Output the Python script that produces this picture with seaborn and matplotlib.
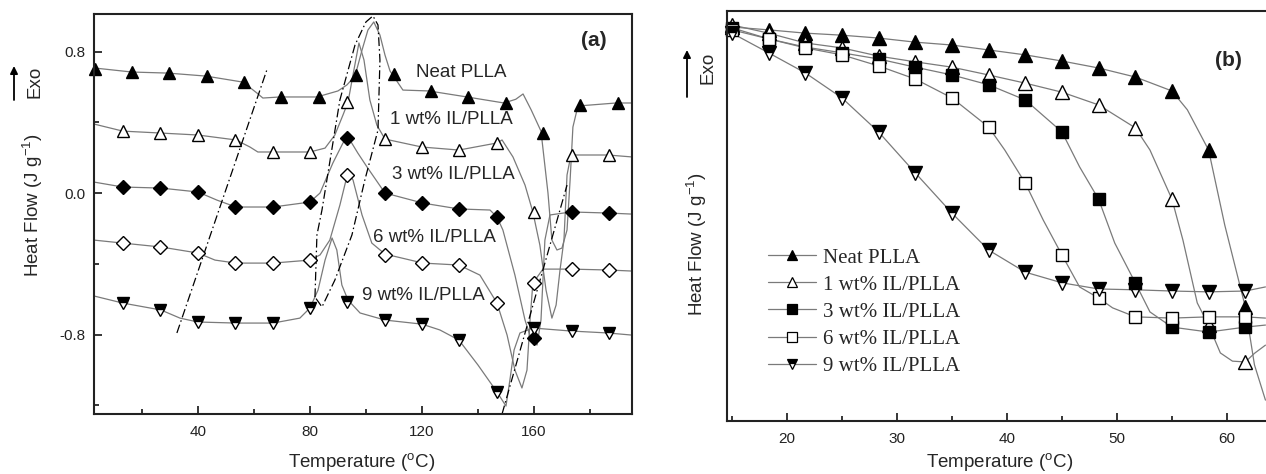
import seaborn as sns
import matplotlib.pyplot as plt
from matplotlib.lines import Line2D
from matplotlib.ticker import MultipleLocator, FormatStrFormatter

'''DSC heating scans (a) and cooling scans (b) of PLLA / IL blends'''

labels = ['Neat PLLA', '1 wt% IL/PLLA', '3 wt% IL/PLLA', '6 wt% IL/PLLA', '9 wt% IL/PLLA']

# ---------- panel (a): heating curves ----------
neat_t = [2.9, 16.4, 29.3, 42.9, 56.1, 61.1, 63.2, 69.3, 82.5, 90.0, 93.2, 96.1, 98.6, 100.7,
          102.8, 105.0, 106.8, 108.6, 113.2, 122.5, 136.1, 149.3, 153.5, 156.1, 159.0, 162.5,
          165.0, 166.4, 168.2, 170.0, 171.8, 172.9, 173.9, 175.7, 189.3, 195.0]
neat_hf = [0.707, 0.684, 0.678, 0.661, 0.627, 0.565, 0.537, 0.543, 0.543, 0.577, 0.611, 0.661,
           0.808, 0.921, 0.967, 0.893, 0.780, 0.690, 0.582, 0.577, 0.543, 0.509, 0.530, 0.560,
           0.470, 0.350, 0.0, -0.266, -0.322, -0.311, -0.209, 0.073, 0.373, 0.492, 0.509, 0.509]

one_t = [2.9, 13.2, 26.8, 40.0, 53.6, 58.6, 61.4, 66.8, 80.0, 85.4, 88.9, 91.8, 93.6, 95.7,
         97.5, 99.3, 101.4, 103.9, 106.8, 120.0, 133.2, 146.8, 148.6, 152.5, 156.8, 159.6,
         162.1, 164.3, 166.4, 167.9, 169.3, 170.7, 171.8, 173.2, 186.4, 195.0]
one_hf = [0.390, 0.350, 0.339, 0.328, 0.300, 0.260, 0.232, 0.232, 0.232, 0.254, 0.328, 0.441,
          0.514, 0.695, 0.848, 0.752, 0.526, 0.384, 0.305, 0.260, 0.243, 0.283, 0.300, 0.204,
          0.045, -0.107, -0.294, -0.548, -0.707, -0.633, -0.435, -0.266, 0.102, 0.215, 0.215, 0.204]

three_t = [2.9, 13.2, 26.8, 40.0, 46.8, 53.6, 66.8, 80.0, 83.6, 88.2, 91.8, 93.6, 97.1, 100.4,
           106.8, 120.4, 133.2, 144.3, 146.8, 148.9, 153.2, 156.8, 159.3, 161.1, 162.5, 163.9,
           165.7, 173.2, 186.4, 195.0]
three_hf = [0.062, 0.034, 0.028, 0.006, -0.040, -0.079, -0.079, -0.051, 0.0, 0.170, 0.283, 0.317,
            0.226, 0.147, 0.0, -0.057, -0.090, -0.096, -0.136, -0.209, -0.464, -0.718, -0.842,
            -0.859, -0.718, -0.266, -0.124, -0.107, -0.113, -0.119]

six_t = [2.9, 13.2, 26.8, 40.0, 46.1, 53.6, 66.8, 80.0, 83.6, 87.1, 90.7, 93.6, 95.4, 98.6,
         102.1, 106.8, 120.4, 133.2, 140.7, 146.8, 150.4, 153.2, 155.7, 157.5, 158.6, 159.6,
         163.2, 173.2, 186.4, 195.0]
six_hf = [-0.266, -0.283, -0.305, -0.339, -0.379, -0.396, -0.396, -0.379, -0.350, -0.266, -0.068,
          0.119, 0.073, -0.124, -0.283, -0.345, -0.396, -0.407, -0.464, -0.622, -0.803, -1.001,
          -1.102, -1.001, -0.718, -0.509, -0.430, -0.430, -0.435, -0.441]

nine_t = [2.9, 13.2, 26.8, 33.6, 40.0, 53.6, 66.8, 76.4, 80.0, 82.9, 85.4, 87.9, 89.6, 91.4,
          93.6, 97.9, 106.8, 120.0, 126.4, 133.2, 140.0, 146.8, 150.0, 151.4, 152.9, 155.0,
          159.6, 173.2, 186.4, 195.0]
nine_hf = [-0.582, -0.622, -0.661, -0.707, -0.729, -0.735, -0.735, -0.707, -0.650, -0.548, -0.379,
           -0.254, -0.322, -0.520, -0.605, -0.678, -0.718, -0.741, -0.774, -0.831, -0.972, -1.125,
           -1.204, -1.057, -0.887, -0.791, -0.763, -0.780, -0.791, -0.803]

# symbol positions on the curves
mk_neat_t = [3.3, 16.4, 29.8, 43.1, 56.5, 69.8, 83.2, 96.5, 109.9, 123.2, 136.6, 149.9, 163.3, 176.6, 190.0]
mk_neat_hf = [0.70, 0.684, 0.678, 0.661, 0.627, 0.543, 0.545, 0.67, 0.675, 0.577, 0.543, 0.509, 0.34, 0.50, 0.509]
mk_t = [13.2, 26.6, 40.0, 53.4, 66.7, 80.0, 93.4, 106.7, 120.0, 133.4, 146.7, 160.0, 173.4, 186.7]
mk_one_hf = [0.350, 0.339, 0.328, 0.300, 0.232, 0.232, 0.514, 0.305, 0.260, 0.243, 0.283, -0.107, 0.215, 0.215]
mk_three_hf = [0.034, 0.028, 0.006, -0.079, -0.079, -0.051, 0.311, 0.0, -0.057, -0.090, -0.136, -0.820, -0.107, -0.113]
mk_six_hf = [-0.283, -0.305, -0.339, -0.396, -0.396, -0.379, 0.102, -0.350, -0.396, -0.407, -0.622, -0.509, -0.430, -0.435]
mk_nine_hf = [-0.622, -0.661, -0.729, -0.735, -0.735, -0.650, -0.616, -0.718, -0.741, -0.831, -1.125, -0.763, -0.780, -0.791]

# dash-dot guide lines (Tg, cold crystallisation, melting)
tg_t = [32.5, 64.6]
tg_hf = [-0.791, 0.695]
cc_t = [81.8, 82.5, 84.3, 90.7, 96.1, 100.0, 102.5, 104.3, 105.0, 104.3, 99.6, 95.0, 88.9, 84.3, 81.8]
cc_hf = [-0.588, -0.237, -0.096, 0.526, 0.837, 0.967, 1.001, 0.950, 0.752, 0.356, 0.073, -0.237, -0.492, -0.644, -0.588]
tm_t = [148.6, 171.8]
tm_hf = [-1.249, 0.045]

# ---------- panel (b): cooling curves (arbitrary heat-flow units) ----------
mk_b_t = [15.0, 18.33, 21.67, 25.0, 28.33, 31.67, 35.0, 38.33, 41.67, 45.0, 48.33, 51.67, 55.0, 58.33, 61.67]
mk_b_neat = [0.961, 0.954, 0.946, 0.941, 0.934, 0.924, 0.917, 0.905, 0.893, 0.878, 0.861, 0.839, 0.805, 0.661, 0.278]
mk_b_one = [0.966, 0.946, 0.922, 0.910, 0.890, 0.876, 0.863, 0.844, 0.824, 0.802, 0.771, 0.715, 0.541, 0.234, 0.144]
mk_b_three = [0.959, 0.932, 0.912, 0.898, 0.883, 0.863, 0.844, 0.820, 0.783, 0.705, 0.541, 0.337, 0.229, 0.217, 0.229]
mk_b_six = [0.954, 0.932, 0.910, 0.893, 0.866, 0.834, 0.788, 0.717, 0.580, 0.405, 0.300, 0.254, 0.251, 0.254, 0.254]
mk_b_nine = [0.946, 0.898, 0.849, 0.788, 0.705, 0.605, 0.507, 0.417, 0.363, 0.337, 0.322, 0.320, 0.317, 0.315, 0.317]

b_neat_t = [15.0, 18.33, 21.67, 25.0, 28.33, 31.67, 35.0, 38.33, 41.67, 45.0, 48.33, 51.67, 55.0,
            56.4, 58.33, 59.8, 61.67, 62.5, 63.5]
b_neat = [0.961, 0.954, 0.946, 0.941, 0.934, 0.924, 0.917, 0.905, 0.893, 0.878, 0.861, 0.839, 0.805,
          0.759, 0.661, 0.478, 0.278, 0.137, 0.051]
b_one_t = [15.0, 18.33, 21.67, 25.0, 28.33, 31.67, 35.0, 38.33, 41.67, 45.0, 48.33, 51.67, 53.0,
           55.0, 56.0, 57.3, 58.33, 59.4, 60.5, 61.67, 62.5, 63.5]
b_one = [0.966, 0.946, 0.922, 0.910, 0.890, 0.876, 0.863, 0.844, 0.824, 0.802, 0.771, 0.715, 0.661,
         0.541, 0.441, 0.288, 0.234, 0.166, 0.146, 0.144, 0.165, 0.185]
b_three_t = [15.0, 18.33, 21.67, 25.0, 28.33, 31.67, 35.0, 38.33, 41.67, 45.0, 46.6, 48.33, 49.8,
             51.67, 53.0, 55.0, 58.33, 61.67, 63.5]
b_three = [0.959, 0.932, 0.912, 0.898, 0.883, 0.863, 0.844, 0.820, 0.783, 0.705, 0.620, 0.541, 0.434,
           0.337, 0.266, 0.229, 0.217, 0.229, 0.234]
b_six_t = [15.0, 18.33, 21.67, 25.0, 28.33, 31.67, 35.0, 38.33, 39.8, 41.67, 43.3, 45.0, 46.6,
           48.33, 49.6, 51.67, 55.0, 58.33, 61.67, 63.5]
b_six = [0.954, 0.932, 0.910, 0.893, 0.866, 0.834, 0.788, 0.717, 0.661, 0.580, 0.490, 0.405, 0.327,
         0.300, 0.276, 0.254, 0.251, 0.254, 0.254, 0.251]
b_nine_t = [15.0, 18.33, 21.67, 25.0, 28.33, 31.67, 35.0, 38.33, 41.67, 45.0, 48.33, 51.67, 55.0,
            58.33, 61.67, 63.5]
b_nine = [0.946, 0.898, 0.849, 0.788, 0.705, 0.605, 0.507, 0.417, 0.363, 0.337, 0.322, 0.320, 0.317,
          0.315, 0.317, 0.327]

LINE = '#7a7a7a'

sns.set_style('ticks')
plt.rcParams['font.family'] = ['Liberation Sans', 'DejaVu Sans']
plt.rcParams['mathtext.default'] = 'regular'
plt.rcParams['axes.unicode_minus'] = False

fig = plt.figure(figsize=(12.66, 4.74), dpi=100)
ax_a = fig.add_axes([94 / 1266, 1 - 414 / 474, 538 / 1266, 400 / 474])
ax_b = fig.add_axes([727 / 1266, 1 - 421 / 474, 539 / 1266, 410 / 474])


def curve(ax, t, y):
    sns.lineplot(x=t, y=y, ax=ax, sort=False, estimator=None, color=LINE, lw=0.9)


def symbols(ax, t, y, marker, ms, face, **kw):
    sns.lineplot(x=t, y=y, ax=ax, sort=False, estimator=None, linestyle='none',
                 marker=marker, ms=ms, mfc=face, mec='black', mew=1.0, clip_on=False, **kw)


# --- (a)
for t, y in [(neat_t, neat_hf), (one_t, one_hf), (three_t, three_hf), (six_t, six_hf), (nine_t, nine_hf)]:
    curve(ax_a, t, y)
for t, y in [(tg_t, tg_hf), (cc_t, cc_hf), (tm_t, tm_hf)]:
    ax_a.plot(t, y, color='black', lw=0.9, dashes=(7, 2.5, 1.2, 2.5))

symbols(ax_a, mk_neat_t, mk_neat_hf, '^', 9, 'black')
symbols(ax_a, mk_t, mk_one_hf, '^', 9, 'white')
symbols(ax_a, mk_t, mk_three_hf, 'D', 7, 'black')
symbols(ax_a, mk_t, mk_six_hf, 'D', 7, 'white')
symbols(ax_a, mk_t, mk_nine_hf, 'v', 9, 'black', fillstyle='top', markerfacecoloralt='white')

label_pos = [(117.9, 0.684), (108.6, 0.413), (109.3, 0.102), (102.5, -0.254), (98.6, -0.577)]
for (x, y), lab in zip(label_pos, labels):
    ax_a.text(x, y, lab, fontsize=13.5, va='center', ha='left')
ax_a.text(181.4, 0.865, '(a)', fontsize=15, fontweight='bold', ha='center', va='center')

ax_a.set_xlim(2.9, 195)
ax_a.set_ylim(-1.249, 1.012)
ax_a.xaxis.set_major_locator(MultipleLocator(40))
ax_a.xaxis.set_minor_locator(MultipleLocator(20))
ax_a.yaxis.set_major_locator(MultipleLocator(0.8))
ax_a.yaxis.set_minor_locator(MultipleLocator(0.4))
ax_a.yaxis.set_major_formatter(FormatStrFormatter('%.1f'))
ax_a.set_xlabel('Temperature ($^{o}$C)', fontsize=13.5, va='center')
ax_a.xaxis.set_label_coords((362 - 94) / 538, (414 - 462) / 400)
ax_a.set_ylabel('Heat Flow (J g$^{-1}$)', fontsize=13.5, va='center')
ax_a.yaxis.set_label_coords((33 - 94) / 538, (414 - 205) / 400)

# --- (b)
for t, y in [(b_neat_t, b_neat), (b_one_t, b_one), (b_three_t, b_three), (b_six_t, b_six), (b_nine_t, b_nine)]:
    curve(ax_b, t, y)
symbols(ax_b, mk_b_t, mk_b_neat, '^', 10, 'black')
symbols(ax_b, mk_b_t, mk_b_one, '^', 10, 'white')
symbols(ax_b, mk_b_t, mk_b_three, 's', 8, 'black')
symbols(ax_b, mk_b_t, mk_b_six, 's', 8, 'white')
symbols(ax_b, mk_b_t, mk_b_nine, 'v', 10, 'black', fillstyle='top', markerfacecoloralt='white')
ax_b.text(60.1, 0.880, '(b)', fontsize=15, fontweight='bold', ha='center', va='center')

ax_b.set_xlim(14.55, 63.55)
ax_b.set_ylim(0, 1)
ax_b.set_yticks([])
ax_b.xaxis.set_major_locator(MultipleLocator(10))
ax_b.xaxis.set_minor_locator(MultipleLocator(5))
ax_b.spines['right'].set_visible(False)
ax_b.set_xlabel('Temperature ($^{o}$C)', fontsize=13.5, va='center')
ax_b.xaxis.set_label_coords((1000 - 727) / 539, (421 - 462) / 410)
ax_b.set_ylabel('Heat Flow (J g$^{-1}$)', fontsize=13.5, va='center')
ax_b.yaxis.set_label_coords((697 - 727) / 539, (421 - 244) / 410)

styles = [('^', 'black', {}), ('^', 'white', {}), ('s', 'black', {}), ('s', 'white', {}),
          ('v', 'black', {'fillstyle': 'top', 'markerfacecoloralt': 'white'})]
handles = [Line2D([], [], color=LINE, lw=0.9, marker=m, ms=6.5, mfc=f, mec='black', mew=0.9, **kw)
           for m, f, kw in styles]
ax_b.legend(handles, labels, loc='upper left', bbox_to_anchor=((768 - 727) / 539, (421 - 248) / 410),
            frameon=False, borderpad=0, borderaxespad=0, handlelength=2.3, handletextpad=0.35,
            labelspacing=0.36, prop={'family': ['Liberation Serif', 'DejaVu Serif'], 'size': 15})

for ax in (ax_a, ax_b):
    ax.tick_params(which='both', direction='in', labelsize=11, width=1.1, color='black',
                   labelcolor='#222222', top=False, right=False)
    ax.tick_params(which='major', length=6, pad=8)
    ax.tick_params(which='minor', length=3.5)
    for s in ax.spines.values():
        s.set_linewidth(1.5)
        s.set_color('#222222')
ax_a.tick_params(axis='y', pad=6)

# Exo arrows
for xa, y0, y1, xt, yt in [(14, 100, 66, 35, 82), (687, 97, 50, 708, 68)]:
    fig.add_artist(plt.Annotation('', xy=(xa / 1266, 1 - y1 / 474), xytext=(xa / 1266, 1 - y0 / 474),
                                  xycoords='figure fraction',
                                  arrowprops=dict(arrowstyle='-|>', color='black', lw=1.3,
                                                  mutation_scale=11, shrinkA=0, shrinkB=0)))
    fig.text(xt / 1266, 1 - yt / 474, 'Exo', rotation=90, fontsize=13.5, ha='center', va='center')

plt.savefig('out.png', dpi=100)
